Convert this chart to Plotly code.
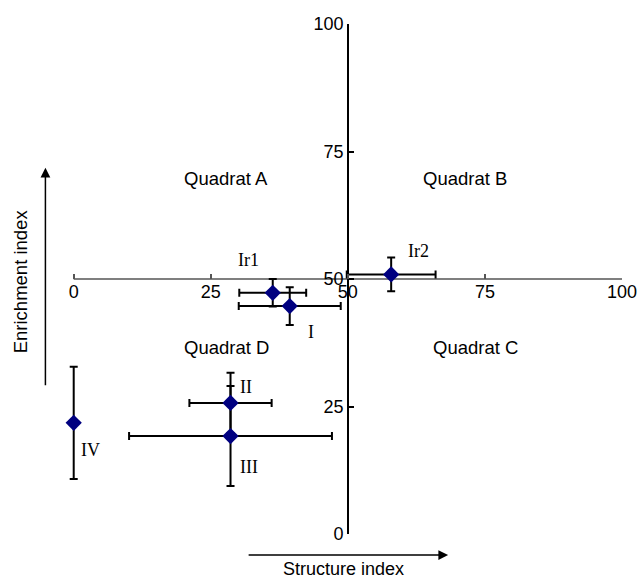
import plotly.graph_objects as go

# ---- data ----
sites = ["Ir1", "I", "Ir2", "II", "III", "IV"]
structure_index = [36.3, 39.4, 57.9, 28.6, 28.6, 0.0]
enrichment_index = [47.3, 44.7, 50.9, 25.7, 19.2, 21.8]
structure_err = [6.1, 9.3, 8.1, 7.5, 18.5, 0.0]
enrichment_err = [2.7, 3.7, 3.3, 5.9, 9.8, 11.0]
tick_vals = [0, 25, 50, 75, 100]
quadrats = ["Quadrat A", "Quadrat B", "Quadrat C", "Quadrat D"]

SANS = "Liberation Sans, Arial, sans-serif"
SERIF = "Liberation Serif, Times New Roman, serif"
FS = 18.5
FS_TICK = 18
FS_SERIF = 18

W, H = 638, 579
X0 = -2.5                     # small extra room so the x=0 error bar is not clipped
L, R, T, B = 59.6, 622.0, 24.3, 534.0   # plot area in pixels


def px(p):
    return (p - L) / (R - L)


def py(p):
    return (B - p) / (B - T)


fig = go.Figure()
fig.add_trace(go.Scatter(
    x=structure_index, y=enrichment_index,
    mode="markers",
    marker=dict(symbol="diamond", size=12.5, color="#000080",
                line=dict(width=0)),
    error_x=dict(type="data", array=structure_err, visible=True,
                 color="black", thickness=2, width=4),
    error_y=dict(type="data", array=enrichment_err, visible=True,
                 color="black", thickness=2, width=4),
    cliponaxis=False, showlegend=False, hoverinfo="skip",
))

ann = []
site_label_pos = {
    "Ir1": (31.9, 53.8), "I": (43.3, 39.7), "Ir2": (62.9, 55.5),
    "II": (31.4, 28.9), "III": (31.9, 13.2), "IV": (3.0, 16.5),
}
for s in sites:
    lx, ly = site_label_pos[s]
    ann.append(dict(x=lx, y=ly, xref="x", yref="y", text=s, showarrow=False,
                    xanchor="center", yanchor="middle",
                    font=dict(family=SERIF, size=FS_SERIF, color="black")))
quad_pos = {"Quadrat A": (27.7, 69.8), "Quadrat B": (71.4, 69.8),
            "Quadrat C": (73.2, 36.5), "Quadrat D": (27.8, 36.5)}
for q in quadrats:
    qx, qy = quad_pos[q]
    ann.append(dict(x=qx, y=qy, xref="x", yref="y", text=q, showarrow=False,
                    xanchor="center", yanchor="middle",
                    font=dict(family=SANS, size=FS, color="black")))

# arrows
ann.append(dict(x=px(45), y=py(168), xref="paper", yref="paper",
                ax=0, ay=219, axref="pixel", ayref="pixel", text="",
                showarrow=True, arrowhead=2, arrowsize=1.3, arrowwidth=1.5,
                arrowcolor="black"))
ann.append(dict(x=px(448), y=py(555), xref="paper", yref="paper",
                ax=-201, ay=0, axref="pixel", ayref="pixel", text="",
                showarrow=True, arrowhead=2, arrowsize=1.3, arrowwidth=1.5,
                arrowcolor="black"))
# axis titles
ann.append(dict(x=px(20), y=py(281), xref="paper", yref="paper",
                xanchor="center", yanchor="middle",
                text="Enrichment index", textangle=-90, showarrow=False,
                font=dict(family=SANS, size=FS, color="black")))
ann.append(dict(x=px(343), y=py(569), xref="paper", yref="paper",
                xanchor="center", yanchor="middle", borderpad=0,
                text="Structure index", showarrow=False,
                font=dict(family=SANS, size=18, color="black")))

fig.update_layout(
    width=W, height=H,
    margin=dict(l=L, r=W - R, t=T, b=H - B, pad=0),
    paper_bgcolor="white", plot_bgcolor="white",
    annotations=ann,
    shapes=[dict(type="line", xref="x", yref="y", x0=0, x1=100, y0=50, y1=50,
                 line=dict(color="#555555", width=1.5), layer="below")],
    xaxis=dict(range=[X0, 100], tickvals=tick_vals, anchor="free", position=0.5,
               showline=False, automargin=False,
               ticks="inside", ticklen=5, tickcolor="#555555", tickwidth=1.5,
               showgrid=False, zeroline=False,
               tickfont=dict(family=SANS, size=FS_TICK, color="black")),
    yaxis=dict(range=[0, 100], tickvals=tick_vals, anchor="free",
               position=(50 - X0) / (100 - X0),
               showline=True, linecolor="black", linewidth=1.5,
               automargin=False,
               ticks="inside", ticklen=5, tickcolor="black", tickwidth=1.5,
               showgrid=False, zeroline=False,
               tickfont=dict(family=SANS, size=FS_TICK, color="black")),
)

fig.write_html("out.html")
